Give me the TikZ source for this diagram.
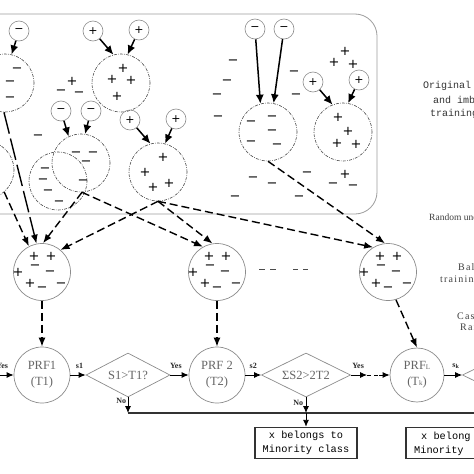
\documentclass[tikz,border=0pt]{standalone}
\usepackage{fontspec}
\usepackage{graphicx}
\setmainfont{Liberation Serif}
\setmonofont{Liberation Mono}
\newfontfamily\signfont{DejaVu Sans}
\newfontfamily\widefont[LetterSpace=12]{Liberation Serif}
\usetikzlibrary{arrows.meta,shapes.geometric}
\definecolor{cgray}{gray}{0.55}
\definecolor{tgray}{gray}{0.40}
\definecolor{fgray}{gray}{0.62}
\tikzset{
  sgn/.style={font=\signfont\fontsize{13}{13}\selectfont, inner sep=0pt},
  smc/.style={circle, draw=cgray, line width=0.6pt, minimum size=20pt, inner sep=0pt, font=\signfont\fontsize{11}{11}\selectfont},
  dcirc/.style={circle, draw=black!70, line width=0.6pt, dash pattern=on 3pt off 1.2pt on 0.8pt off 1.2pt, minimum size=58pt, inner sep=0pt},
  bcirc/.style={circle, draw=cgray, line width=0.7pt, minimum size=57pt, inner sep=0pt},
  prf/.style={circle, draw=cgray, line width=0.7pt, minimum size=56pt, inner sep=0pt, align=center, text=tgray, font=\fontsize{12.5}{16}\selectfont},
  dia/.style={diamond, draw=cgray, line width=0.7pt, minimum width=84pt, minimum height=44pt, inner sep=0pt, aspect=2, text=tgray, font=\fontsize{12.5}{14}\selectfont},
  xbox/.style={draw=black!80, line width=1.4pt, minimum width=102pt, minimum height=31pt, inner sep=0pt, align=center, font=\ttfamily\fontsize{10.3}{14}\selectfont},
  boxtxt/.style={inner sep=0pt, anchor=west, font=\ttfamily\fontsize{10.3}{14}\selectfont},
  framestyle/.style={draw=fgray, line width=0.8pt, rounded corners=22pt},
  solidarrow/.style={line width=1.5pt, -{Latex[length=9pt,width=8pt]}},
  dasharrow/.style={line width=1.4pt, dash pattern=on 8pt off 4pt, -{Latex[length=9pt,width=7pt]}},
  flow/.style={line width=0.9pt, -{Latex[length=7pt,width=6pt]}},
  busline/.style={line width=1.2pt, draw=black!80},
  lab/.style={font=\bfseries\fontsize{8}{9}\selectfont, inner sep=1pt, text=black!85},
  sidelab/.style={font=\ttfamily\fontsize{10}{12}\selectfont, text=black!80, anchor=west, inner sep=0pt},
  sidelabr/.style={font=\fontsize{9.5}{10}\selectfont, text=black!75, anchor=west, inner sep=0pt},
  sidelabw/.style={font=\widefont\fontsize{10}{12}\selectfont, text=black!75, anchor=west, inner sep=0pt},
}
\begin{document}
\begin{tikzpicture}[x=1pt,y=-1pt]
\useasboundingbox (0,0) rectangle (474,474);
\clip (0,0) rectangle (474,474);
\fill[white] (0,0) rectangle (474,474);
% frame of the original training set
\draw[framestyle] (-30,14) rectangle (377,214);
% big dashed circles
\node[dcirc] (bc0) at (-15,170) {};
\node[dcirc] (bc1) at (5,83) {};
\node[dcirc] (bc2) at (121,83) {};
\node[dcirc] (bc3) at (81,163) {};
\node[dcirc] (bc4) at (58,181) {};
\node[dcirc] (bc5) at (158,172) {};
\node[dcirc] (bc6) at (268,132) {};
\node[dcirc] (bc7) at (343,132) {};
% small circles
\node[smc] (sm1) at (19,31) {−};
\node[smc] (sm2) at (93,31) {+};
\node[smc] (sm3) at (139,30) {+};
\node[smc] (sm4) at (61,111) {−};
\node[smc] (sm5) at (91,111) {−};
\node[smc] (sm6) at (130,120) {+};
\node[smc] (sm7) at (176,119) {+};
\node[smc] (sm8) at (255,29) {−};
\node[smc] (sm9) at (284,29) {−};
\node[smc] (sm10) at (313,82) {+};
\node[smc] (sm11) at (359,80) {+};
% minus signs
\foreach \x/\y [count=\i] in {17/70, 10/83, 10/99, 76/154, 93/154, 86/163, 83/182,
  45/170, 43/181, 48/192, 59/203, 251/123, 272/118, 272/132, 251/143, 277/146,
  61/92, 79/94, 38/137, 233/62, 227/82, 217/96, 218/118, 294/73, 296/96,
  253/179, 272/185, 235/198, 299/198, 307/174, 333/185, 353/187}
  \node[sgn] (mn\i) at (\x,\y) {−};
% plus signs
\foreach \x/\y [count=\i] in {123/68, 112/79, 131/80, 117/96, 163/157, 145/172,
  153/187, 169/183, 338/117, 348/131, 337/143, 356/144,
  72/81, 345/51, 334/62, 353/64, 345/174}
  \node[sgn] (pl\i) at (\x,\y) {+};
% arrows from small circles
\draw[solidarrow] (sm1) -- (bc1.77);
\draw[solidarrow] (sm2) -- (bc2.105);
\draw[solidarrow] (sm3) -- (bc2.77);
\draw[solidarrow] (sm4) -- (bc3.115);
\draw[solidarrow] (sm5) -- (bc3.82);
\draw[solidarrow] (sm6) -- (bc5.105);
\draw[solidarrow] (sm7) -- (bc5.76);
\draw[solidarrow] (sm8) -- (bc6.105);
\draw[solidarrow] (sm9) -- (bc6.79);
\draw[solidarrow] (sm10) -- (bc7.111);
\draw[solidarrow] (sm11) -- (bc7.80);
% balanced training sets
\node[bcirc] (ba1) at (42,272) {};
\node[bcirc] (ba2) at (217,272) {};
\node[bcirc] (ba3) at (388,272) {};
\foreach \c in {ba1,ba2,ba3}{
  \foreach \dx/\dy/\s [count=\i] in {-8/-16/+, 9/-16/+, -24/0/+, -7/-5/−, 8/1/−, -12/11/+, 0/17/−, 19/13/−}
    \node[sgn] (\c s\i) at ([shift={(\dx,\dy)}]\c.center) {\s};
}
\draw[line width=0.8pt, draw=black!70] (259,269) -- (265,269) (270,269) -- (276,269)
  (293,269) -- (298,269) (303,269) -- (308,269);
% random under-sampling connectors
\draw[dasharrow, dash pattern=on 22pt off 5pt] (bc1.-92) -- (ba1.101);
\draw[dasharrow] (bc0.-49) -- (ba1.117);
\draw[dasharrow] (bc3.-88) -- (ba1.88);
\draw[dasharrow] (bc3.-88) -- (ba2.119);
\draw[dasharrow] (bc5.south) -- (ba1.50);
\draw[dasharrow] (bc5.south) -- (ba2.99);
\draw[dasharrow] (bc5.south) -- (ba3.121);
\draw[dasharrow] (bc6.south) -- (ba3.96);
% cascade
\node[prf] (prf1) at (42,375) {PRF1\\(T1)};
\node[prf] (prf2) at (217,375) {PRF 2\\(T2)};
\node[prf, minimum size=54pt] (prfL) at (417,375) {PRF{\scriptsize L}\\(T{\scriptsize k})};
\node[dia] (d1) at (128,375) {S1>T1?};
\node[dia, minimum width=89pt] (d2) at (306,375) {ΣS2>2T2};
\node[dia, minimum width=89pt] (d3) at (507,375) {};
\draw[dasharrow] (ba1) -- (prf1);
\draw[dasharrow] (ba2) -- (prf2);
\draw[dasharrow] (ba3.-74) -- (prfL.north);
\coordinate (lin) at (-10,375);
\coordinate (ya) at (367,375);
\coordinate (yb) at (379,375);
\draw[flow] (lin) -- node[lab, above=5pt, pos=0.52]{Yes} (prf1);
\draw[flow] (prf1) -- node[lab, above=5pt, pos=0.6]{s1} (d1);
\draw[flow] (d1) -- node[lab, above=5pt, pos=0.3]{Yes} (prf2);
\draw[flow] (prf2) -- node[lab, above=5pt, pos=0.5]{s2} (d2);
\draw[flow] (d2) -- node[lab, above=5pt, pos=0.45]{Yes} (ya);
\draw[line width=0.9pt, dash pattern=on 4pt off 3pt] (ya) -- (yb);
\draw[flow] (yb) -- (prfL);
\draw[flow] (prfL) -- node[lab, above=5pt, pos=0.65]{s\textsubscript{k}} (d3);
% exits
\coordinate (b1) at (128,413);
\coordinate (bm) at (306,413);
\coordinate (bend) at (480,413);
\node[xbox] (box1) at (306,443) {x belongs to\\Minority class};
\node[xbox] (box2) at (457,443) {};
\node[boxtxt] (box2a) at (421,437) {x belong};
\node[boxtxt] (box2b) at (414,451) {Minority};
\draw[flow] (d1) -- node[lab, left=0.5pt, pos=0.2]{No} (b1);
\draw[busline] (b1) -- (bend);
\draw[flow] (d2) -- node[lab, left=1.5pt, pos=0.35]{No} (bm);
\draw[flow] (bm) -- (box1);
% side captions
\node[sidelab] (r1) at (423,86) {Original};
\node[sidelab] (r2) at (433,100) {and imb};
\node[sidelab] (r3) at (430,114) {training};
\node[sidelabr] (r4) at (429,217) {Random une};
\node[sidelabw] (r5) at (458,267) {Bal};
\node[sidelabw] (r6) at (440,279) {trainin};
\node[sidelabw] (r7) at (457,316) {Cas};
\node[sidelabw] (r8) at (460,327) {Ran};
\end{tikzpicture}
\end{document}
